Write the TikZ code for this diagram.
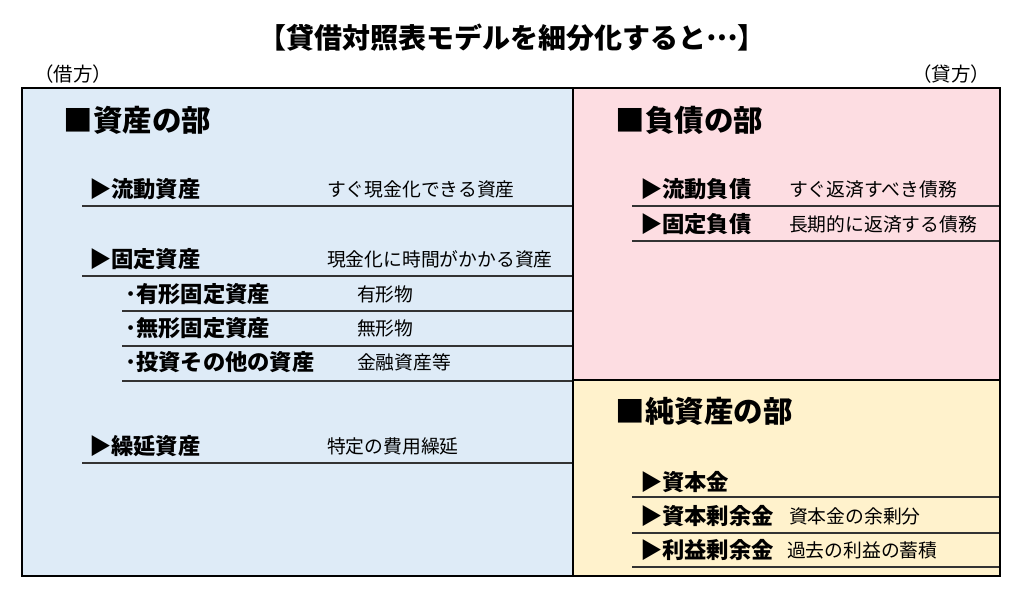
\documentclass[tikz,border=0pt]{standalone}
\usepackage{fontspec}
\setmainfont{Noto Sans CJK JP}
\definecolor{asblue}{HTML}{DEEBF7}
\definecolor{lipink}{HTML}{FDDDE2}
\definecolor{eqyel}{HTML}{FFF2CC}
\definecolor{rulec}{HTML}{333333}
\begin{document}
\begin{tikzpicture}[x=1pt,y=-1pt,
  txt/.style={anchor=west,inner sep=0pt,outer sep=0pt},
  ttl/.style={txt,anchor=center,font=\fontsize{28}{28}\selectfont\bfseries},
  side/.style={txt,font=\fontsize{19.5}{19.5}\selectfont},
  hd/.style={txt,font=\fontsize{29.5}{29.5}\selectfont\bfseries},
  itm/.style={txt,font=\fontsize{22.3}{22.3}\selectfont\bfseries},
  dsc/.style={txt,font=\fontsize{18.8}{18.8}\selectfont},
  rl/.style={draw=rulec,line width=1.4pt},
  panel/.style={draw=black,line width=2pt}]
\useasboundingbox (0,0) rectangle (1024,596);
\fill[white] (0,0) rectangle (1024,596);
% panels
\fill[asblue] (22,88) rectangle (573,576);
\fill[lipink] (573,88) rectangle (1000,380);
\fill[eqyel] (573,380) rectangle (1000,576);
% title and sides
\node[ttl] (title) at (512,38) {【貸借対照表モデルを細分化すると\raisebox{0.3em}{…}】};
\node[side] (debit) at (34,74) {（借方）};
\node[side,anchor=east] (credit) at (990,74) {（貸方）};
% assets
\node[hd] (ash) at (63,120) {■\hspace{1pt}資産の部};
\node[itm] (ca) at (89,189) {▶流動資産};
\node[dsc] (cad) at (327,189) {すぐ現金化できる資産};
\draw[rl] (82,206) -- (573,206);
\node[itm] (fa) at (89,259) {▶固定資産};
\node[dsc] (fad) at (327,259) {現金化に時間がかかる資産};
\draw[rl] (82,276) -- (573,276);
\node[itm] (tfa) at (125,294) {･有形固定資産};
\node[dsc] (tfad) at (357,294) {有形物};
\draw[rl] (122,311) -- (573,311);
\node[itm] (ifa) at (125,328) {･無形固定資産};
\node[dsc] (ifad) at (357,328) {無形物};
\draw[rl] (122,346) -- (573,346);
\node[itm] (inv) at (125,362) {･投資その他の資産};
\node[dsc] (invd) at (357,362) {金融資産等};
\draw[rl] (122,381) -- (573,381);
\node[itm] (da) at (89,446) {▶繰延資産};
\node[dsc] (dad) at (327,446) {特定の費用繰延};
\draw[rl] (82,463) -- (573,463);
% liabilities
\node[hd] (lih) at (615,120) {■\hspace{1pt}負債の部};
\node[itm] (cl) at (640,189) {▶流動負債};
\node[dsc] (cld) at (789,189) {すぐ返済すべき債務};
\draw[rl] (632,206) -- (1000,206);
\node[itm] (fl) at (640,224) {▶固定負債};
\node[dsc] (fld) at (789,224) {長期的に返済する債務};
\draw[rl] (632,241) -- (1000,241);
% equity
\node[hd] (eqh) at (615,411) {■\hspace{1pt}純資産の部};
\node[itm] (cap) at (640,482) {▶資本金};
\draw[rl] (632,497) -- (1000,497);
\node[itm] (cs) at (640,516) {▶資本剰余金};
\node[dsc] (csd) at (789,516) {資本金の余剰分};
\draw[rl] (632,533) -- (1000,533);
\node[itm] (re) at (640,550) {▶利益剰余金};
\node[dsc] (red) at (787,550) {過去の利益の蓄積};
\draw[rl] (632,567) -- (1000,567);
% borders
\draw[panel] (573,88) -- (573,576);
\draw[panel] (573,380) -- (1000,380);
\draw[panel] (22,88) rectangle (1000,576);
\end{tikzpicture}
\end{document}
